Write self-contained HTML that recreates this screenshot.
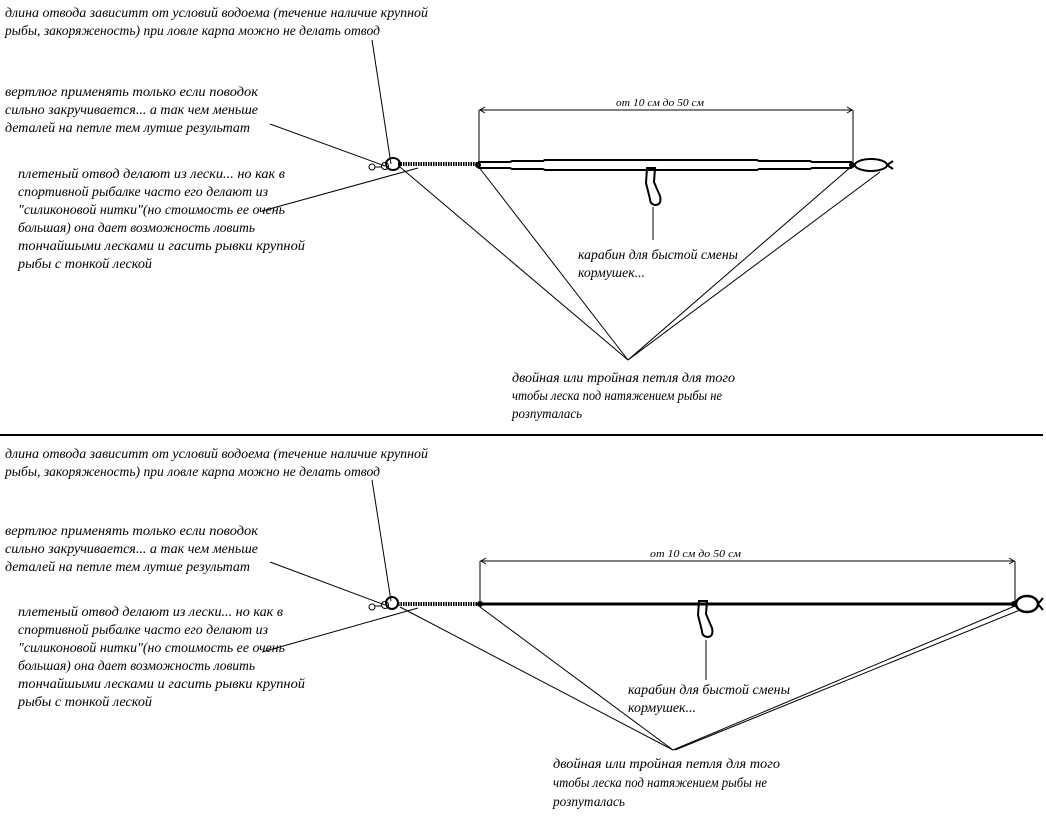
<!DOCTYPE html>
<html><head><meta charset="utf-8"><style>
html,body{margin:0;padding:0;background:#fff;}
svg{display:block}
text{font-family:"Liberation Serif",serif;font-style:italic;font-size:13.5px;fill:#000}
.s{font-size:10.5px}
</style></head><body>
<svg width="1046" height="826" viewBox="0 0 1046 826" xmlns="http://www.w3.org/2000/svg">
<g id="top">
<text x="5" y="17" textLength="423" lengthAdjust="spacingAndGlyphs">длина отвода зависитт от условий водоема (течение наличие крупной</text>
<text x="5" y="35" textLength="375" lengthAdjust="spacingAndGlyphs">рыбы, закоряженость) при ловле карпа можно не делать отвод</text>
<text x="5" y="96" textLength="253" lengthAdjust="spacingAndGlyphs">вертлюг применять только если поводок</text>
<text x="5" y="114" textLength="253" lengthAdjust="spacingAndGlyphs">сильно закручивается... а так чем меньше</text>
<text x="5" y="132" textLength="245" lengthAdjust="spacingAndGlyphs">деталей на петле тем лутше результат</text>
<text x="18" y="178" textLength="267" lengthAdjust="spacingAndGlyphs">плетеный отвод делают из лески... но как в</text>
<text x="18" y="196" textLength="250" lengthAdjust="spacingAndGlyphs">спортивной рыбалке часто его делают из</text>
<text x="18" y="214" textLength="267" lengthAdjust="spacingAndGlyphs">"силиконовой нитки"(но стоимость ее очень</text>
<text x="18" y="232" textLength="237" lengthAdjust="spacingAndGlyphs">большая) она дает возможность ловить</text>
<text x="18" y="250" textLength="287" lengthAdjust="spacingAndGlyphs">тончайшыми лесками и гасить рывки крупной</text>
<text x="18" y="268" textLength="134" lengthAdjust="spacingAndGlyphs">рыбы с тонкой леской</text>
<text x="578" y="259" textLength="160" lengthAdjust="spacingAndGlyphs">карабин для быстой смены</text>
<text x="578" y="277" textLength="67" lengthAdjust="spacingAndGlyphs">кормушек...</text>
<text x="512" y="382" textLength="223" lengthAdjust="spacingAndGlyphs">двойная или тройная петля для того</text>
<text x="512" y="400" textLength="210" lengthAdjust="spacingAndGlyphs">чтобы леска под натяжением рыбы не</text>
<text x="512" y="418" textLength="70" lengthAdjust="spacingAndGlyphs">розпуталась</text>
<text class="s" x="616" y="106" textLength="88" lengthAdjust="spacingAndGlyphs">от 10 см до 50 см</text>
<g stroke="#000" fill="none" stroke-width="1">
<line x1="372" y1="40" x2="391" y2="164"/>
<line x1="270" y1="124" x2="385" y2="166"/>
<line x1="262" y1="211" x2="418" y2="168"/>
<line x1="400" y1="167" x2="628" y2="360"/>
<line x1="478" y1="166" x2="628" y2="360"/>
<line x1="852" y1="166" x2="628" y2="360"/>
<line x1="880" y1="172" x2="628" y2="360"/>
<line x1="479" y1="110" x2="853" y2="110"/>
<line x1="479" y1="110" x2="479" y2="164"/>
<line x1="853" y1="110" x2="853" y2="164"/>
<polyline points="485,107 480,110 485,113"/>
<polyline points="847,107 852,110 847,113"/>
<line x1="653" y1="207" x2="653" y2="240"/>
<circle cx="372" cy="167" r="3"/>
<line x1="375" y1="167" x2="382" y2="167"/>
<circle cx="385" cy="166" r="3.5"/>
<ellipse cx="393" cy="164" rx="7" ry="6" stroke-width="2"/>
<line x1="398" y1="164" x2="478" y2="164" stroke-width="4" stroke-dasharray="1.5 1"/>
<polyline points="478,162 510,162 512,161 543,161 545,160 757,160 759,161 810,161 812,162 852,162" stroke-width="2"/>
<polyline points="478,168 510,168 512,169 543,169 545,170 757,170 759,169 810,169 812,168 852,168" stroke-width="2"/>
<ellipse cx="871" cy="165" rx="16" ry="6" stroke-width="2"/>
<path d="M887 165 L893 161 M887 165 L893 169" stroke-width="2"/>
<path d="M647 168 L655 168 L654 182 L660 196 Q662 205 655 205 Q650 204 650 199 L646 183 Z" stroke-width="2"/>
</g>
<circle cx="478" cy="165" r="3"/>
<circle cx="852" cy="165" r="3"/>
</g>
<line x1="0" y1="435" x2="1043" y2="435" stroke="#000" stroke-width="2"/>
<g id="bot">
<text x="5" y="458" textLength="423" lengthAdjust="spacingAndGlyphs">длина отвода зависитт от условий водоема (течение наличие крупной</text>
<text x="5" y="476" textLength="375" lengthAdjust="spacingAndGlyphs">рыбы, закоряженость) при ловле карпа можно не делать отвод</text>
<text x="5" y="535" textLength="253" lengthAdjust="spacingAndGlyphs">вертлюг применять только если поводок</text>
<text x="5" y="553" textLength="253" lengthAdjust="spacingAndGlyphs">сильно закручивается... а так чем меньше</text>
<text x="5" y="571" textLength="245" lengthAdjust="spacingAndGlyphs">деталей на петле тем лутше результат</text>
<text x="18" y="616" textLength="265" lengthAdjust="spacingAndGlyphs">плетеный отвод делают из лески... но как в</text>
<text x="18" y="634" textLength="250" lengthAdjust="spacingAndGlyphs">спортивной рыбалке часто его делают из</text>
<text x="18" y="652" textLength="267" lengthAdjust="spacingAndGlyphs">"силиконовой нитки"(но стоимость ее очень</text>
<text x="18" y="670" textLength="237" lengthAdjust="spacingAndGlyphs">большая) она дает возможность ловить</text>
<text x="18" y="688" textLength="287" lengthAdjust="spacingAndGlyphs">тончайшыми лесками и гасить рывки крупной</text>
<text x="18" y="706" textLength="134" lengthAdjust="spacingAndGlyphs">рыбы с тонкой леской</text>
<text x="628" y="694" textLength="162" lengthAdjust="spacingAndGlyphs">карабин для быстой смены</text>
<text x="628" y="712" textLength="68" lengthAdjust="spacingAndGlyphs">кормушек...</text>
<text x="553" y="768" textLength="227" lengthAdjust="spacingAndGlyphs">двойная или тройная петля для того</text>
<text x="553" y="787" textLength="214" lengthAdjust="spacingAndGlyphs">чтобы леска под натяжением рыбы не</text>
<text x="553" y="806" textLength="72" lengthAdjust="spacingAndGlyphs">розпуталась</text>
<text class="s" x="650" y="557" textLength="91" lengthAdjust="spacingAndGlyphs">от 10 см до 50 см</text>
<g stroke="#000" fill="none" stroke-width="1">
<line x1="372" y1="480" x2="391" y2="601"/>
<line x1="270" y1="562" x2="385" y2="605"/>
<line x1="262" y1="652" x2="418" y2="608"/>
<line x1="400" y1="607" x2="673" y2="750"/>
<line x1="480" y1="607" x2="673" y2="750"/>
<line x1="1015" y1="606" x2="673" y2="750"/>
<line x1="1020" y1="610" x2="675" y2="750"/>
<line x1="480" y1="561" x2="1015" y2="561"/>
<line x1="480" y1="561" x2="480" y2="604"/>
<line x1="1015" y1="561" x2="1015" y2="604"/>
<polyline points="486,558 481,561 486,564"/>
<polyline points="1009,558 1014,561 1009,564"/>
<line x1="706" y1="640" x2="706" y2="680"/>
<circle cx="372" cy="607" r="3"/>
<line x1="375" y1="606" x2="382" y2="606"/>
<circle cx="385" cy="605" r="3.5"/>
<ellipse cx="392" cy="603" rx="6" ry="6" stroke-width="2"/>
<line x1="398" y1="604" x2="480" y2="604" stroke-width="4" stroke-dasharray="1.5 1"/>
<line x1="480" y1="604" x2="1015" y2="604" stroke-width="3"/>
<ellipse cx="1027" cy="604" rx="11" ry="8" stroke-width="2.5"/>
<path d="M1038 604 L1043 598 M1038 604 L1043 610" stroke-width="2"/>
<path d="M699 601 L707 601 L706 614 L712 628 Q714 637 707 637 Q702 636 702 631 L698 615 Z" stroke-width="2"/>
</g>
<circle cx="480" cy="604" r="3"/>
<circle cx="1014" cy="604" r="3"/>
</g>
</svg>
</body></html>
